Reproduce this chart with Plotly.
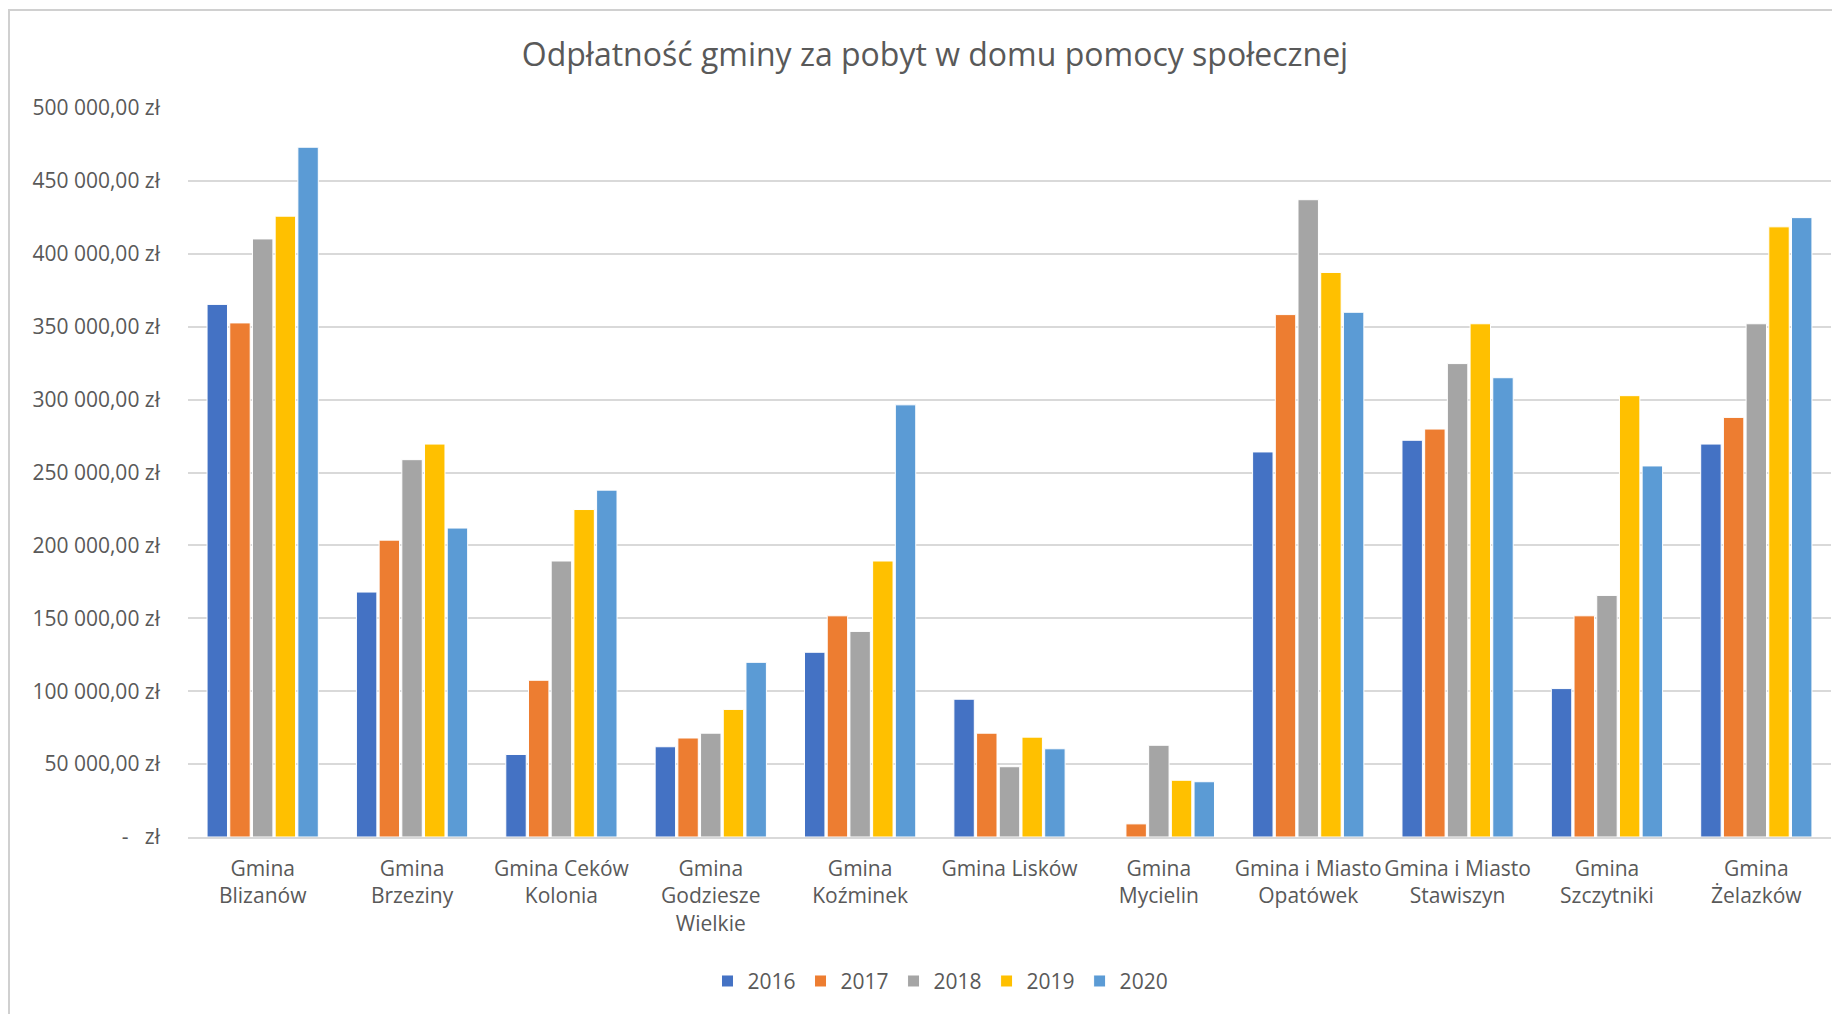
import plotly.graph_objects as go

categories = [
    "Gmina<br>Blizanów", "Gmina<br>Brzeziny", "Gmina Ceków<br>Kolonia",
    "Gmina<br>Godziesze<br>Wielkie", "Gmina<br>Koźminek", "Gmina Lisków",
    "Gmina<br>Mycielin", "Gmina i Miasto<br>Opatówek", "Gmina i Miasto<br>Stawiszyn",
    "Gmina<br>Szczytniki", "Gmina<br>Żelazków",
]

v2016 = [365300, 168000, 56600, 61900, 126700, 94500, 0, 264100, 272100, 101800, 269500]
v2017 = [352600, 203600, 107500, 67900, 151700, 71200, 9000, 358300, 279800, 151700, 287800]
v2018 = [410200, 258800, 189300, 71200, 141000, 48200, 62900, 437100, 324700, 165700, 352000]
v2019 = [425800, 269500, 224600, 87500, 189300, 68500, 38900, 387200, 352000, 302700, 418500]
v2020 = [473100, 211900, 237900, 119800, 296400, 60500, 37900, 359900, 315000, 254500, 424800]

years = ["2016", "2017", "2018", "2019", "2020"]
colors = ["#4472C4", "#ED7D31", "#A5A5A5", "#FFC000", "#5B9BD5"]

tick_vals = [0, 50000, 100000, 150000, 200000, 250000, 300000, 350000, 400000, 450000, 500000]
tick_text = ["-\u00a0\u00a0\u00a0zł", "50 000,00 zł", "100 000,00 zł", "150 000,00 zł",
             "200 000,00 zł", "250 000,00 zł", "300 000,00 zł", "350 000,00 zł",
             "400 000,00 zł", "450 000,00 zł", "500 000,00 zł"]

FONT = "Open Sans"
TXT = "#595959"

fig = go.Figure()
for name, vals, col in zip(years, [v2016, v2017, v2018, v2019, v2020], colors):
    fig.add_trace(go.Bar(
        name=name, x=categories, y=vals,
        marker=dict(color=col, line=dict(color="white", width=1)),
    ))

W, H = 1832, 1006  # page body has an 8px margin
fig.update_layout(
    width=W, height=H,
    barmode="group", bargap=0.24, bargroupgap=0.1,
    paper_bgcolor="white", plot_bgcolor="white",
    margin=dict(l=180, r=9, t=100, b=177),
    font=dict(family=FONT, color=TXT, size=21),
    title=dict(
        text="Odpłatność gminy za pobyt w domu pomocy społecznej",
        x=0.506, xanchor="center", xref="container",
        y=1 - 47 / H, yanchor="middle", yref="container",
        font=dict(family=FONT, size=32, color=TXT),
    ),
    xaxis=dict(
        showgrid=False, showline=True, linecolor="#D9D9D9", linewidth=1.5,
        ticks="", tickfont=dict(size=21, color=TXT), ticklabelstandoff=12,
    ),
    yaxis=dict(
        range=[0, 500000], tickvals=tick_vals, ticktext=tick_text,
        showgrid=True, gridcolor="#D9D9D9", gridwidth=1.5,
        zeroline=False, showline=False, ticks="",
        tickfont=dict(size=21, color=TXT), ticklabelstandoff=27,
    ),
    legend=dict(
        orientation="h", x=0.458, xanchor="center", y=-0.198, yanchor="middle",
        font=dict(size=21, color=TXT), itemwidth=30, traceorder="normal",
    ),
    shapes=[dict(
        type="rect", xref="paper", yref="paper",
        x0=(9 - 188) / 1643, x1=1.2, y0=-0.6, y1=(837 - 10) / 729,
        line=dict(color="#D0D0D0", width=2), fillcolor="rgba(0,0,0,0)", layer="below",
    )],
)

fig.write_html("out.html")
